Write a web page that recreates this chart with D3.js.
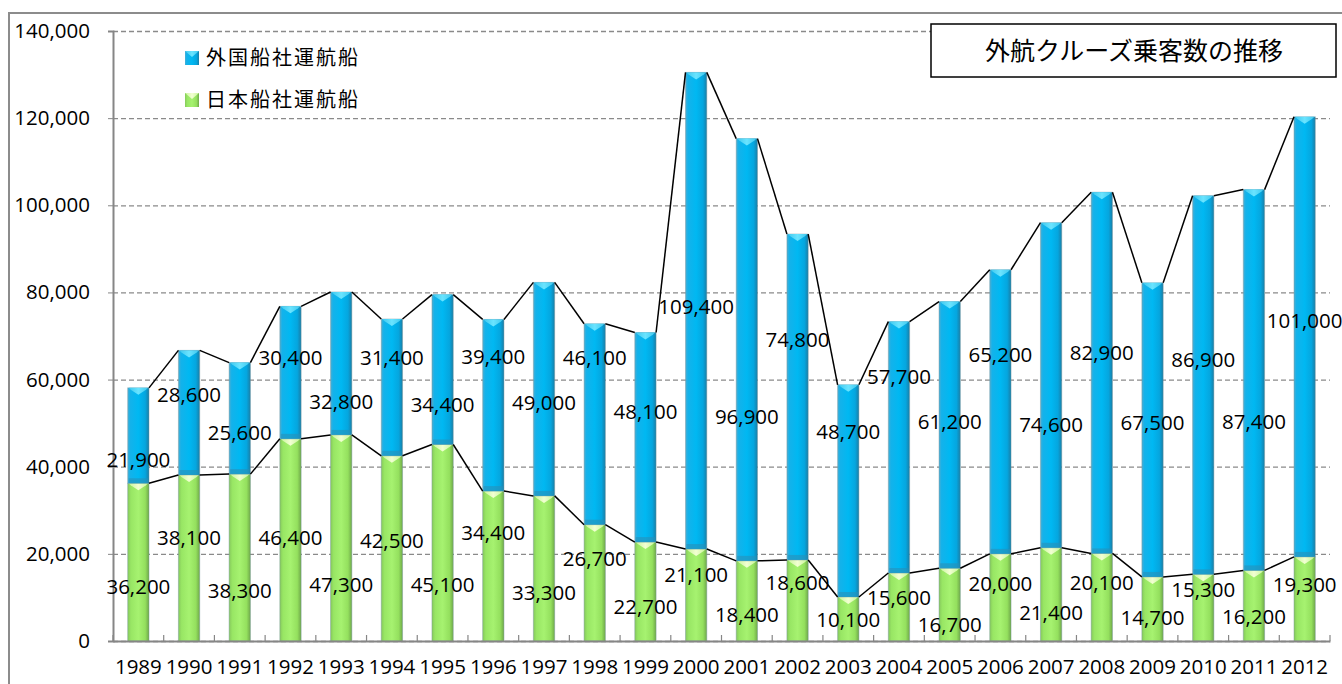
<!DOCTYPE html>
<html>
<head>
<meta charset="utf-8">
<script src="https://cdn.jsdelivr.net/npm/d3@7"></script>
<style>
  body { margin: 0; background: #fff; }
  text { font-family: "Open Sans", "Noto Sans CJK JP", sans-serif; }
</style>
</head>
<body>
<div id="chart-area"></div>
<script>
// data
var years = ["1989","1990","1991","1992","1993","1994","1995","1996","1997","1998","1999","2000",
             "2001","2002","2003","2004","2005","2006","2007","2008","2009","2010","2011","2012"];
var japanShips = [36200,38100,38300,46400,47300,42500,45100,34400,33300,26700,22700,21100,
                  18400,18600,10100,15600,16700,20000,21400,20100,14700,15300,16200,19300];
var foreignShips = [21900,28600,25600,30400,32800,31400,34400,39400,49000,46100,48100,109400,
                    96900,74800,48700,57700,61200,65200,74600,82900,67500,86900,87400,101000];
// where each value label sits (in passenger units, as placed in the original)
var japanLabelAt = [12400,23600,11500,23600,12800,23000,12800,24800,11000,18800,7800,15200,
                    6000,13300,4800,9900,3700,13100,6400,13300,5300,11700,5500,12800];
var foreignLabelAt = [41500,56500,47700,65000,54800,65000,54200,65200,54600,65000,52600,76700,
                      51400,69100,48000,60600,50300,65600,49600,66100,50000,64500,50300,73400];
var yTicks = [0,20000,40000,60000,80000,100000,120000,140000];
var seriesNames = ["外国船社運航船","日本船社運航船"];
var chartTitle = "外航クルーズ乗客数の推移";

var margin = {top:31, bottom:43, left:113, right:12};
var width = 1342 - margin.left - margin.right;
var height = 684 - margin.top - margin.bottom;

var svg = d3.select("#chart-area").append("svg")
    .attr("width", 1342)
    .attr("height", 684);

// gradients for the bevelled bars
var defs = svg.append("defs");
function hGrad(id, stops){
    var gr = defs.append("linearGradient").attr("id", id)
        .attr("x1","0").attr("x2","1").attr("y1","0").attr("y2","0");
    stops.forEach((s)=>{
        gr.append("stop").attr("offset", s[0]).attr("stop-color", s[1]);
    });
}
hGrad("blueGrad", [[0,"#4aaed4"],[0.12,"#14b2ea"],[0.5,"#00b8f2"],[0.82,"#05a6df"],[1,"#1a7ea6"]]);
hGrad("greenGrad", [[0,"#86c85c"],[0.15,"#98e664"],[0.5,"#a6f270"],[0.82,"#94e05e"],[1,"#6fa84a"]]);
hGrad("blueCap", [[0,"#3fc8ee"],[0.5,"#6ae4ff"],[1,"#3fc8ee"]]);
hGrad("greenCap", [[0,"#c8f59a"],[0.5,"#f2ffd2"],[1,"#c8f59a"]]);

// outer chart frame
svg.append("rect")
    .attr("x", 9).attr("y", 13)
    .attr("width", 1400).attr("height", 700)
    .attr("fill", "none")
    .attr("stroke", "#8c8c8c")
    .attr("stroke-width", 2);

var g = svg.append("g")
    .attr("transform", "translate(" + margin.left + ", " + margin.top + ")");

var x = d3.scaleBand()
    .domain(years)
    .range([0, width])
    .paddingInner(0.58)
    .paddingOuter(0.29);

var y = d3.scaleLinear()
    .domain([0, 140000])
    .range([height, 0]);

// gridlines
var grid = g.append("g")
    .attr("class", "grid")
    .call(d3.axisLeft(y).tickValues(yTicks).tickSize(-width).tickFormat(""));
grid.select(".domain").remove();
grid.selectAll("line")
    .attr("stroke", "#8a8a8a")
    .attr("stroke-width", 1.3)
    .attr("stroke-dasharray", "5,3");

// left axis
var leftAxis = d3.axisLeft(y)
    .tickValues(yTicks)
    .tickSize(5)
    .tickPadding(18)
    .tickFormat(d3.format(","));
var ly = g.append("g")
    .attr("class", "left axis")
    .call(leftAxis);
ly.select(".domain").attr("stroke", "#868686").attr("stroke-width", 2);
ly.selectAll("line").attr("stroke", "#868686");
ly.selectAll("text")
    .attr("font-size", "20.5px")
    .attr("fill", "#000");

var table = years.map((d, i) => {
    return {year: d, japan: japanShips[i], foreign: foreignShips[i]};
});
var stacked = d3.stack().keys(["japan", "foreign"])(table);

var fills = {japan: ["url(#greenGrad)", "url(#greenCap)"], foreign: ["url(#blueGrad)", "url(#blueCap)"]};

stacked.forEach((layer) => {
    var bars = g.append("g").attr("class", "bars " + layer.key);
    bars.selectAll("rect")
        .data(layer)
        .enter()
        .append("rect")
        .attr("x", (d) => x(d.data.year))
        .attr("y", (d) => y(d[1]))
        .attr("width", x.bandwidth())
        .attr("height", (d) => y(d[0]) - y(d[1]))
        .attr("fill", fills[layer.key][0])
        .attr("stroke", "rgba(120,150,160,0.45)")
        .attr("stroke-width", 1);
    // bevel cap on top of each segment
    bars.selectAll("polygon")
        .data(layer)
        .enter()
        .append("polygon")
        .attr("points", (d) => {
            var x0 = x(d.data.year), x1 = x0 + x.bandwidth(), xc = x0 + x.bandwidth() / 2;
            var t = y(d[1]);
            return [[x0 + 1, t], [x1 - 1, t], [x1 - 3, t + 2], [xc, t + 7], [x0 + 3, t + 2]].join(" ");
        })
        .attr("fill", fills[layer.key][1]);
    if (layer.key === "foreign") {
        // darker band where the blue meets the green
        bars.selectAll("rect.band")
            .data(layer)
            .enter()
            .append("rect")
            .attr("class", "band")
            .attr("x", (d) => x(d.data.year) + 1)
            .attr("y", (d) => y(d[0]) - 5)
            .attr("width", x.bandwidth() - 2)
            .attr("height", 5)
            .attr("fill", "#2a8fb8")
            .attr("opacity", 0.6);
    }
});

// series lines joining the segment tops
stacked.forEach((layer) => {
    var segs = [];
    for (var i = 0; i < layer.length - 1; i++) {
        segs.push([layer[i], layer[i + 1]]);
    }
    g.append("g").attr("class", "series-lines")
        .selectAll("line")
        .data(segs)
        .enter()
        .append("line")
        .attr("x1", (d) => x(d[0].data.year) + x.bandwidth())
        .attr("y1", (d) => y(d[0][1]))
        .attr("x2", (d) => x(d[1].data.year))
        .attr("y2", (d) => y(d[1][1]))
        .attr("stroke", "#000")
        .attr("stroke-width", 1.5);
});

// x axis
var bottomAxis = d3.axisBottom(x).tickSize(0).tickPadding(18);
var bx = g.append("g")
    .attr("class", "bottom axis")
    .attr("transform", "translate(0, " + height + ")")
    .call(bottomAxis);
bx.select(".domain").attr("stroke", "#868686").attr("stroke-width", 2);
bx.selectAll("text")
    .attr("font-size", "20.5px")
    .attr("fill", "#000")
    .attr("text-anchor", "middle");
bx.selectAll("line.cat-tick")
    .data(d3.range(years.length + 1))
    .enter()
    .append("line")
    .attr("class", "cat-tick")
    .attr("x1", (d) => d * x.step())
    .attr("x2", (d) => d * x.step())
    .attr("y1", 0)
    .attr("y2", -6)
    .attr("stroke", "#868686")
    .attr("stroke-width", 1.2);

// value labels
var labels = g.append("g").attr("class", "value-labels");
labels.selectAll("text.jp")
    .data(table)
    .enter()
    .append("text")
    .attr("class", "jp")
    .attr("x", (d) => x(d.year) + x.bandwidth() / 2)
    .attr("y", (d, i) => y(japanLabelAt[i]))
    .attr("dy", "0.35em")
    .attr("text-anchor", "middle")
    .attr("font-size", "20.5px")
    .text((d) => d3.format(",")(d.japan));
labels.selectAll("text.fr")
    .data(table)
    .enter()
    .append("text")
    .attr("class", "fr")
    .attr("x", (d) => x(d.year) + x.bandwidth() / 2)
    .attr("y", (d, i) => y(foreignLabelAt[i]))
    .attr("dy", "0.35em")
    .attr("text-anchor", "middle")
    .attr("font-size", "20.5px")
    .text((d) => d3.format(",")(d.foreign));

// legend
var legend = svg.append("g").attr("class", "legend");
var legendFills = [["url(#blueGrad)", "url(#blueCap)"], ["url(#greenGrad)", "url(#greenCap)"]];
seriesNames.forEach((name, i) => {
    var ly0 = 51 + i * 42;
    legend.append("rect")
        .attr("x", 185).attr("y", ly0)
        .attr("width", 14).attr("height", 14)
        .attr("fill", legendFills[i][0]);
    legend.append("polygon")
        .attr("points", [[185, ly0], [199, ly0], [192, ly0 + 6]].join(" "))
        .attr("fill", legendFills[i][1]);
    legend.append("text")
        .attr("x", 206).attr("y", ly0 + 7)
        .attr("dy", "0.35em")
        .attr("font-family", "'Noto Sans CJK JP', sans-serif")
        .attr("font-size", "20px")
        .attr("letter-spacing", "2px")
        .text(name);
});

// title box
svg.append("rect")
    .attr("x", 931).attr("y", 24)
    .attr("width", 405).attr("height", 53)
    .attr("fill", "#fff")
    .attr("stroke", "#000")
    .attr("stroke-width", 1.5);
svg.append("text")
    .attr("x", 1134).attr("y", 51)
    .attr("dy", "0.35em")
    .attr("text-anchor", "middle")
    .attr("font-family", "'Noto Sans CJK JP', sans-serif")
    .attr("font-size", "25px")
    .text(chartTitle);
</script>
</body>
</html>
